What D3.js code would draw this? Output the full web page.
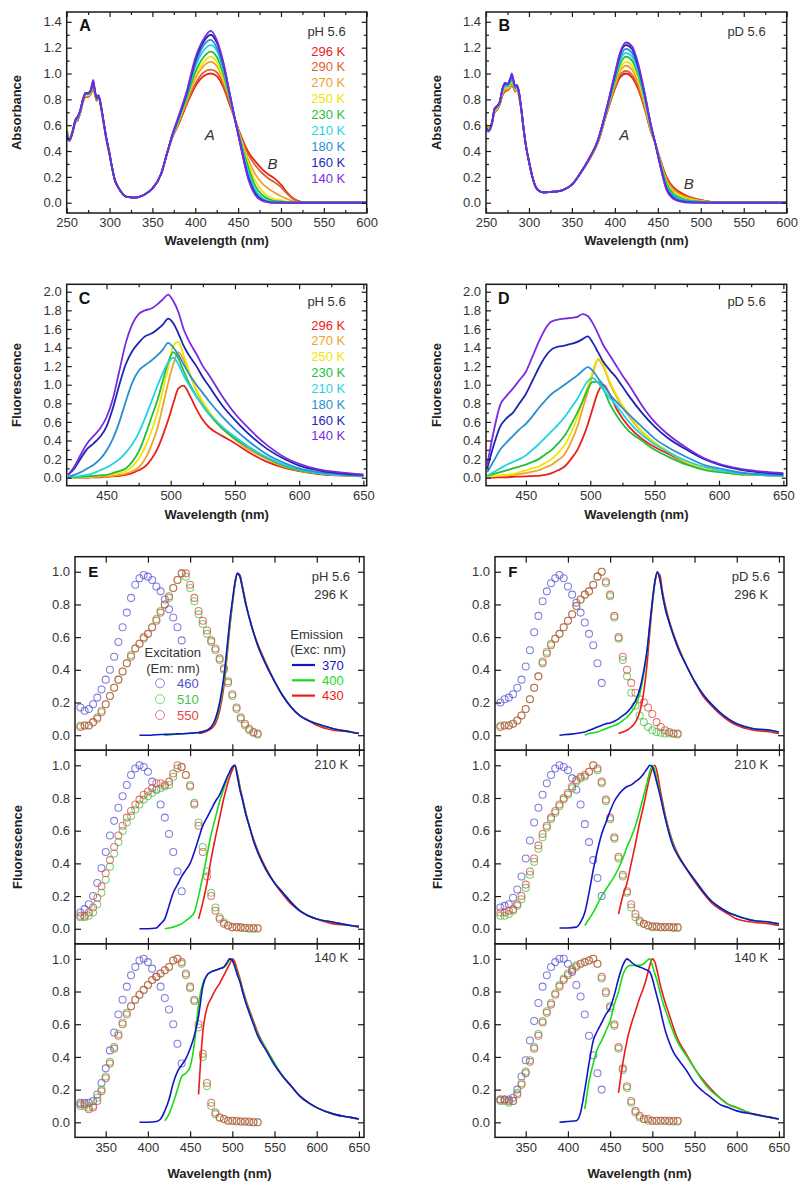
<!DOCTYPE html>
<html><head><meta charset="utf-8">
<script src="https://cdn.jsdelivr.net/npm/d3@7"></script>
<style>body{margin:0;background:#fff}</style>
</head><body>
<svg id="chart" width="800" height="1192" style="background:#fff"></svg>
<script>
// ======================= DATA =======================
// ---- Panels A / B : absorbance vs wavelength ----
const tempsAbs = ["296 K","290 K","270 K","250 K","230 K","210 K","180 K","160 K","140 K"];
const wlA = [250,253,257,260,263,266,269,272,275,278,281,283,285,287,290,293,296,300,303,306,310,315,320,330,340,350,360,367,373,380,390,400,410,418,425,433,440,444,452,462,470,478,485,492,500,507,515,525,540,560,600];
const absA296 = [.57,.50,.56,.62,.64,.70,.78,.82,.82,.84,.88,.84,.79,.82,.74,.62,.50,.37,.27,.18,.12,.07,.045,.04, .06,.11,.22,.38,.50,.60,.76,.90,.98,1.00,.98,.89,.76,.69,.54,.39,.32,.26,.22,.19,.14,.08,.03,.005,0,0,0];
const absA290 = [.57,.50,.56,.62,.64,.70,.78,.82,.82,.84,.89,.84,.79,.82,.74,.62,.50,.37,.27,.18,.12,.07,.045,.04, .06,.11,.22,.38,.50,.61,.77,.92,1.01,1.03,1.01,.91,.78,.69,.53,.37,.29,.23,.19,.16,.12,.07,.025,.004,0,0,0];
const absA270 = [.58,.50,.56,.62,.65,.70,.78,.83,.83,.85,.90,.85,.80,.82,.74,.62,.50,.37,.27,.18,.12,.07,.045,.04, .06,.11,.22,.38,.51,.62,.79,.96,1.06,1.09,1.06,.94,.80,.70,.52,.33,.22,.15,.11,.08,.05,.03,.01,0,0,0,0];
const absA250 = [.58,.50,.56,.63,.65,.71,.79,.83,.83,.85,.91,.85,.80,.82,.74,.62,.50,.37,.27,.18,.12,.07,.045,.04, .06,.11,.22,.38,.51,.62,.80,.99,1.09,1.13,1.09,.96,.81,.70,.51,.30,.17,.09,.05,.03,.02,.01,0,0,0,0,0];
const absA230 = [.56,.49,.55,.63,.65,.71,.79,.84,.84,.86,.92,.85,.80,.83,.74,.62,.50,.37,.27,.18,.12,.07,.045,.04, .06,.11,.22,.38,.51,.63,.81,1.01,1.13,1.17,1.13,.99,.81,.70,.50,.27,.13,.06,.03,.015,.01,0,0,0,0,0,0];
const absA210 = [.55,.49,.55,.63,.66,.71,.79,.84,.84,.86,.93,.86,.81,.83,.75,.63,.51,.38,.27,.18,.12,.07,.045,.04, .06,.11,.22,.38,.51,.64,.83,1.05,1.18,1.22,1.18,1.02,.83,.71,.49,.24,.10,.04,.015,.005,0,0,0,0,0,0,0];
const absA180 = [.54,.48,.55,.63,.66,.72,.80,.84,.84,.86,.93,.86,.81,.83,.75,.63,.51,.38,.27,.18,.12,.07,.045,.04, .06,.11,.22,.38,.52,.65,.84,1.07,1.22,1.26,1.20,1.04,.84,.71,.48,.21,.08,.025,.01,0,0,0,0,0,0,0,0];
const absA160 = [.52,.48,.55,.64,.67,.72,.80,.85,.85,.87,.94,.86,.81,.83,.75,.63,.51,.38,.27,.18,.12,.07,.045,.04, .06,.11,.22,.38,.52,.65,.85,1.10,1.25,1.30,1.24,1.07,.85,.72,.47,.19,.07,.02,.005,0,0,0,0,0,0,0,0];
const absA140 = [.51,.48,.55,.64,.67,.72,.80,.85,.85,.87,.95,.86,.81,.83,.75,.63,.51,.38,.27,.18,.12,.07,.045,.04, .06,.11,.22,.38,.52,.66,.86,1.12,1.27,1.33,1.26,1.08,.85,.72,.47,.18,.06,.015,.005,0,0,0,0,0,0,0,0];

const wlB = [250,253,257,260,263,266,269,272,275,278,280,282,284,286,288,291,294,297,300,304,308,312,316,320,328,335,340,350,360,370,380,390,400,406,413,420,427,435,442,447,452,460,468,476,485,495,505,515,525,540,560,600];
const absB296 = [.60,.57,.62,.70,.72,.76,.83,.86,.87,.89,.91,.89,.86,.88,.84,.72,.56,.42,.32,.20,.12,.09,.08,.08,.085, .09,.10,.14,.23,.33,.46,.68,.88,.97,1.0,.97,.88,.72,.55,.46,.35,.20,.12,.08,.05,.03,.015,.005,0,0,0,0];
const absB290 = [.60,.57,.62,.70,.72,.76,.83,.86,.87,.89,.92,.89,.86,.88,.84,.72,.56,.42,.32,.20,.12,.09,.08,.08,.085, .09,.10,.14,.23,.33,.46,.68,.89,.99,1.02,.99,.90,.73,.55,.46,.35,.19,.11,.07,.045,.025,.012,.004,0,0,0,0];
const absB270 = [.61,.58,.62,.71,.73,.77,.84,.88,.88,.90,.93,.90,.87,.89,.85,.72,.56,.42,.32,.20,.12,.09,.08,.08,.085, .09,.10,.14,.23,.33,.47,.69,.91,1.02,1.06,1.03,.93,.75,.56,.46,.34,.17,.10,.06,.035,.02,.01,0,0,0,0,0];
const absB250 = [.60,.57,.62,.71,.73,.77,.85,.89,.89,.91,.94,.91,.87,.89,.85,.72,.56,.42,.32,.20,.12,.09,.08,.08,.085, .09,.10,.14,.23,.33,.47,.70,.93,1.04,1.09,1.06,.96,.77,.57,.46,.33,.16,.085,.055,.03,.018,.008,0,0,0,0,0];
const absB230 = [.59,.56,.62,.72,.74,.77,.86,.90,.90,.92,.96,.92,.88,.90,.86,.73,.56,.42,.32,.20,.12,.09,.08,.08,.085, .09,.10,.14,.23,.34,.47,.70,.94,1.07,1.13,1.10,.99,.79,.58,.46,.33,.15,.07,.04,.02,.012,.005,0,0,0,0,0];
const absB210 = [.57,.55,.61,.72,.74,.78,.86,.91,.90,.93,.97,.93,.88,.90,.86,.73,.56,.42,.32,.20,.12,.09,.08,.08,.085, .09,.10,.14,.23,.34,.47,.71,.96,1.10,1.16,1.13,1.01,.80,.58,.46,.32,.13,.06,.03,.015,.008,.003,0,0,0,0,0];
const absB180 = [.56,.55,.61,.72,.74,.78,.87,.92,.91,.94,.98,.94,.89,.90,.86,.73,.56,.42,.32,.20,.12,.09,.08,.08,.085, .09,.10,.14,.23,.34,.48,.71,.97,1.12,1.19,1.16,1.04,.82,.59,.46,.32,.12,.05,.02,.01,.005,0,0,0,0,0,0];
const absB160 = [.58,.56,.62,.73,.75,.78,.88,.92,.92,.95,.99,.95,.90,.91,.87,.73,.56,.42,.32,.20,.12,.09,.08,.08,.085, .09,.10,.14,.23,.34,.48,.72,.99,1.15,1.22,1.19,1.06,.83,.60,.46,.31,.11,.035,.012,.004,0,0,0,0,0,0,0];
const absB140 = [.58,.56,.62,.73,.75,.78,.88,.93,.92,.96,1.0,.95,.90,.91,.87,.73,.56,.42,.32,.20,.12,.09,.08,.08,.085, .09,.10,.14,.23,.34,.48,.72,1.0,1.16,1.24,1.21,1.08,.84,.60,.46,.31,.10,.03,.01,0,0,0,0,0,0,0,0];

// ---- Panels C / D : fluorescence vs wavelength ----
const tempsFl = ["296 K","270 K","250 K","230 K","210 K","180 K","160 K","140 K"];
const wlCD = [420,425,430,435,440,445,450,455,460,465,470,475,480,485,490,494,498,502,506,510,515,520,525,530,540,550,560,575,590,600,615,630,650];
const flC296 = [0,0,0,0,.005,.005,.01,.015,.02,.03,.05,.08,.12,.2,.32,.46,.62,.8,.96,.99,.88,.74,.62,.54,.45,.37,.28,.17,.1,.07,.04,.025,.015];
const flC270 = [0,0,0,.005,.008,.01,.015,.02,.03,.045,.07,.11,.2,.35,.55,.78,1.02,1.22,1.35,1.27,1.1,.94,.8,.69,.53,.41,.31,.2,.11,.08,.05,.03,.02];
const flC250 = [0,0,.005,.01,.015,.02,.025,.035,.05,.07,.12,.2,.33,.5,.72,.95,1.18,1.42,1.46,1.32,1.12,.95,.82,.71,.55,.43,.33,.21,.12,.08,.05,.03,.02];
const flC230 = [0,.005,.01,.015,.02,.025,.03,.05,.07,.1,.17,.28,.45,.65,.85,1.05,1.24,1.35,1.28,1.15,1.0,.88,.77,.68,.53,.42,.33,.21,.12,.08,.05,.03,.02];
const flC210 = [0,.01,.02,.03,.05,.08,.11,.15,.2,.27,.36,.48,.64,.82,1.0,1.13,1.24,1.29,1.22,1.1,.98,.87,.78,.69,.55,.44,.34,.22,.13,.09,.05,.03,.02];
const flC180 = [.01,.03,.06,.1,.14,.2,.29,.42,.6,.82,1.02,1.15,1.21,1.26,1.32,1.38,1.45,1.4,1.32,1.22,1.1,1.0,.91,.82,.66,.52,.4,.25,.15,.1,.06,.04,.02];
const flC160 = [.03,.1,.21,.31,.37,.44,.55,.75,1.0,1.22,1.36,1.45,1.52,1.55,1.6,1.65,1.71,1.66,1.55,1.42,1.3,1.2,1.08,.98,.78,.62,.48,.31,.19,.13,.08,.05,.03];
const flC140 = [.03,.12,.25,.37,.45,.53,.65,.85,1.15,1.45,1.65,1.76,1.8,1.82,1.87,1.92,1.97,1.9,1.78,1.6,1.45,1.33,1.2,1.1,.88,.69,.54,.35,.21,.15,.09,.06,.035];

const flD296 = [0,0,.005,.005,.01,.012,.015,.018,.02,.03,.05,.08,.12,.2,.3,.42,.57,.75,.92,1.0,.9,.75,.64,.55,.42,.33,.26,.16,.1,.07,.04,.03,.02];
const flD270 = [.01,.015,.02,.025,.03,.04,.05,.065,.08,.11,.14,.19,.25,.38,.55,.74,.92,1.12,1.27,1.2,1.02,.88,.76,.66,.49,.37,.28,.16,.1,.07,.04,.03,.02];
const flD250 = [.01,.02,.025,.03,.04,.06,.08,.1,.12,.16,.2,.27,.35,.48,.65,.82,.98,1.15,1.28,1.22,1.04,.9,.78,.68,.5,.38,.29,.17,.1,.07,.04,.03,.02];
const flD230 = [.02,.04,.06,.08,.1,.12,.14,.17,.2,.25,.3,.37,.45,.57,.7,.82,.95,1.03,1.03,.96,.8,.68,.58,.5,.4,.3,.23,.14,.08,.06,.04,.03,.02];
const flD210 = [.02,.06,.1,.14,.17,.2,.24,.3,.36,.43,.5,.57,.65,.75,.85,.95,1.04,1.07,1.02,.95,.86,.78,.69,.6,.46,.36,.28,.18,.11,.08,.05,.03,.02];
const flD180 = [.06,.18,.3,.38,.45,.52,.58,.66,.75,.83,.9,.95,1.0,1.05,1.1,1.15,1.19,1.15,1.07,1.0,.9,.82,.75,.68,.55,.42,.33,.22,.13,.1,.06,.04,.03];
const flD160 = [.1,.35,.55,.64,.7,.8,.9,1.04,1.18,1.3,1.38,1.41,1.42,1.44,1.46,1.49,1.52,1.45,1.35,1.25,1.16,1.08,.98,.88,.7,.55,.43,.3,.19,.14,.09,.06,.04];
const flD140 = [.14,.5,.78,.88,.96,1.05,1.14,1.3,1.46,1.6,1.68,1.7,1.71,1.72,1.73,1.76,1.74,1.66,1.55,1.43,1.32,1.21,1.1,1.0,.78,.6,.47,.32,.2,.15,.1,.07,.05];

// ---- Panels E / F : normalized excitation (circles) and emission (lines) ----
const exWl460 = [320,325,330,335,340,345,350,355,360,365,370,375,380,385,390,395,400,405,410,415,420,425,430,435,440];
const exWl = [320,325,330,335,340,345,350,355,360,365,370,375,380,385,390,395,400,405,410,415,420,425,430,435,440,445,450,455,460,465,470,475,480,485,490,495,500,505,510,515,520,525,530];
const emWl = [390,400,410,415,420,425,430,435,440,445,450,455,460,465,470,475,480,485,490,494,497,500,503,506,509,512,516,520,525,530,540,550,560,570,580,590,600,620,640,650];
const _ = null;

// E (pH 5.6)
const e296ex460 = [.17,.15,.16,.19,.23,.28,.34,.4,.48,.57,.66,.75,.84,.92,.96,.98,.97,.95,.91,.88,.83,.77,.72,.66,.58];
const e296ex510 = [.06,.06,.06,.08,.11,.15,.19,.24,.29,.34,.39,.44,.49,.53,.56,.59,.62,.66,.71,.76,.8,.84,.9,.95,.99,.97,.9,.82,.74,.68,.62,.57,.52,.46,.4,.32,.24,.16,.1,.06,.03,.015,.005];
const e296ex550 = [.05,.06,.06,.08,.1,.14,.19,.24,.29,.34,.39,.44,.48,.53,.56,.6,.62,.66,.7,.75,.8,.85,.9,.95,.99,.99,.92,.84,.76,.7,.64,.58,.53,.47,.41,.33,.25,.17,.11,.07,.04,.02,.01];
const e296em370 = [0,0,.003,.004,.005,.006,.007,.008,.009,.01,.012,.014,.017,.022,.03,.05,.1,.2,.36,.55,.7,.82,.93,.99,.97,.9,.8,.72,.63,.55,.43,.33,.24,.17,.12,.09,.07,.04,.02,.01];
const e296em400 = [_,_,_,_,0,.002,.004,.006,.008,.01,.012,.014,.017,.022,.03,.05,.09,.18,.33,.52,.68,.8,.92,.99,.97,.9,.8,.72,.63,.55,.43,.33,.24,.17,.12,.09,.07,.04,.02,.01];
const e296em430 = [_,_,_,_,_,_,_,_,_,_,_,_,.01,.015,.025,.04,.07,.15,.3,.5,.66,.8,.92,.99,.98,.91,.81,.72,.63,.56,.44,.33,.24,.17,.12,.09,.06,.03,.02,.01];

const e210ex460 = [.1,.12,.15,.2,.28,.37,.47,.57,.66,.74,.81,.88,.94,.98,1.0,.99,.96,.9,.85,.76,.68,.58,.47,.35,.23];
const e210ex510 = [.07,.07,.08,.1,.15,.22,.3,.38,.46,.53,.6,.65,.69,.73,.76,.79,.81,.83,.85,.86,.87,.88,.93,.98,.99,.94,.88,.77,.65,.5,.35,.22,.13,.07,.04,.02,.01,.01,.005,.005,0,0,0];
const e210ex550 = [.08,.08,.1,.13,.19,.26,.34,.42,.5,.57,.63,.68,.72,.76,.79,.82,.84,.86,.89,.89,.88,.9,.95,1.0,.99,.94,.87,.76,.63,.47,.32,.2,.11,.06,.03,.02,.01,.01,.01,.005,.005,.005,.005];
const e210em370 = [0,0,.005,.03,.06,.14,.22,.27,.32,.36,.4,.47,.55,.63,.68,.73,.78,.82,.88,.93,.96,.99,1.0,.93,.85,.79,.7,.63,.54,.47,.36,.28,.22,.16,.11,.08,.06,.04,.02,.015];
const e210em400 = [_,_,_,_,0,.005,.01,.02,.03,.05,.07,.1,.2,.32,.45,.58,.68,.78,.86,.92,.96,.99,1.0,.94,.86,.79,.7,.63,.54,.47,.36,.28,.22,.16,.11,.08,.06,.04,.02,.015];
const e210em430 = [_,_,_,_,_,_,_,_,_,_,_,_,.06,.16,.28,.43,.56,.68,.8,.88,.93,.97,1.0,.95,.87,.8,.71,.63,.55,.48,.37,.28,.21,.15,.11,.08,.06,.03,.02,.01];

const e140ex460 = [.12,.12,.12,.13,.17,.24,.33,.44,.55,.66,.75,.83,.9,.95,.99,1.0,.98,.94,.89,.83,.76,.69,.6,.48,.36];
const e140ex510 = [.1,.1,.09,.1,.15,.2,.28,.37,.46,.54,.61,.67,.71,.75,.78,.81,.84,.87,.89,.91,.93,.95,.99,1.0,.97,.9,.82,.74,.58,.4,.22,.1,.05,.03,.02,.01,.01,.005,.005,.005,0,0,0];
const e140ex550 = [.11,.11,.08,.09,.13,.19,.27,.36,.45,.53,.6,.66,.71,.75,.78,.81,.84,.87,.89,.91,.93,.95,.99,1.0,.98,.91,.83,.75,.6,.42,.24,.12,.06,.03,.02,.01,.01,.01,.005,.005,.005,0,0];
const e140em370 = [0,0,.005,.02,.07,.14,.24,.31,.35,.39,.45,.53,.65,.83,.9,.92,.93,.94,.95,.98,1.0,.99,.95,.9,.86,.8,.73,.67,.6,.53,.44,.35,.28,.22,.16,.12,.09,.05,.03,.02];
const e140em400 = [_,_,_,_,.01,.05,.12,.2,.28,.3,.34,.48,.72,.85,.9,.92,.93,.94,.95,.97,1.0,.99,.96,.91,.87,.81,.74,.68,.61,.54,.45,.36,.28,.22,.16,.12,.09,.05,.03,.02];
const e140em430 = [_,_,_,_,_,_,_,_,_,_,_,_,.17,.55,.7,.76,.81,.85,.9,.94,.97,1.0,.98,.93,.88,.82,.75,.69,.62,.55,.45,.36,.28,.22,.16,.12,.09,.05,.03,.02];

// F (pD 5.6)
const f296ex460 = [.2,.22,.23,.25,.29,.34,.42,.52,.63,.73,.82,.88,.93,.96,.98,.96,.91,.86,.81,.75,.69,.62,.55,.44,.32];
const f296ex510 = [.06,.06,.06,.07,.09,.12,.16,.22,.29,.36,.45,.51,.56,.59,.62,.66,.7,.74,.79,.83,.86,.88,.92,.97,1.0,.93,.85,.72,.59,.46,.36,.26,.18,.12,.08,.05,.03,.02,.015,.01,.01,.01,.005];
const f296ex550 = [.05,.06,.06,.07,.09,.12,.16,.22,.29,.36,.44,.5,.55,.59,.62,.66,.7,.74,.79,.83,.86,.88,.92,.97,1.0,.94,.86,.73,.6,.48,.4,.32,.26,.22,.2,.17,.13,.08,.05,.03,.02,.01,.01];
const f296em370 = [0,.005,.01,.015,.02,.03,.04,.05,.06,.07,.075,.085,.1,.12,.14,.17,.21,.28,.4,.53,.68,.82,.94,1.0,.95,.86,.76,.69,.61,.54,.43,.33,.25,.19,.14,.1,.07,.04,.03,.02];
const f296em400 = [_,_,_,_,0,.01,.015,.02,.03,.04,.05,.06,.07,.09,.11,.14,.18,.25,.38,.52,.67,.81,.94,1.0,.95,.86,.76,.69,.61,.54,.43,.33,.25,.19,.14,.1,.07,.04,.03,.02];
const f296em430 = [_,_,_,_,_,_,_,_,_,_,_,_,.01,.02,.03,.05,.08,.14,.27,.45,.63,.8,.93,.99,.98,.88,.78,.7,.62,.55,.43,.33,.24,.18,.13,.09,.06,.03,.02,.01];

const f210ex460 = [.13,.14,.15,.19,.24,.32,.43,.54,.65,.74,.82,.89,.94,.98,1.0,.99,.97,.92,.85,.76,.64,.53,.42,.31,.2];
const f210ex510 = [.08,.08,.09,.11,.14,.18,.25,.33,.41,.49,.56,.62,.67,.71,.75,.79,.82,.86,.9,.92,.93,.96,1.0,.97,.89,.78,.67,.55,.43,.32,.22,.13,.07,.04,.03,.02,.01,.01,.01,.01,.01,.005,.005];
const f210ex550 = [.1,.1,.11,.12,.15,.2,.27,.35,.43,.51,.58,.63,.68,.72,.76,.8,.83,.87,.91,.93,.94,.96,1.0,.98,.9,.79,.68,.56,.44,.33,.23,.15,.09,.05,.03,.02,.015,.015,.01,.01,.01,.01,.01];
const f210em370 = [.005,.005,.01,.04,.1,.22,.36,.48,.58,.65,.72,.78,.82,.85,.87,.88,.9,.92,.95,.98,1.0,.99,.94,.88,.82,.75,.66,.58,.5,.45,.37,.3,.23,.17,.13,.1,.08,.05,.04,.03];
const f210em400 = [_,_,_,_,.02,.06,.1,.15,.2,.24,.28,.32,.37,.43,.5,.56,.63,.72,.82,.9,.96,1.0,.97,.9,.83,.76,.67,.59,.51,.45,.37,.3,.23,.17,.13,.1,.08,.05,.04,.03];
const f210em430 = [_,_,_,_,_,_,_,_,_,_,_,_,.09,.2,.28,.4,.52,.65,.76,.86,.93,.98,1.0,.95,.86,.78,.68,.6,.52,.46,.37,.29,.22,.16,.12,.09,.06,.04,.03,.02];

const f140ex460 = [.14,.14,.14,.15,.2,.28,.38,.5,.62,.73,.83,.9,.95,.98,1.0,1.0,.97,.92,.84,.77,.66,.53,.41,.3,.2];
const f140ex510 = [.13,.13,.12,.13,.18,.24,.31,.38,.46,.54,.62,.68,.73,.79,.84,.88,.91,.94,.96,.97,.98,.99,1.0,.97,.88,.79,.7,.59,.45,.32,.21,.12,.06,.03,.02,.01,.01,.01,.01,.01,.005,.005,.005];
const f140ex550 = [.14,.14,.13,.13,.17,.23,.3,.37,.45,.53,.61,.67,.72,.78,.83,.87,.9,.93,.95,.97,.98,.99,1.0,.97,.89,.8,.71,.6,.46,.33,.22,.13,.07,.04,.02,.02,.01,.01,.01,.01,.01,.01,.01];
const f140em370 = [0,.005,.01,.06,.2,.36,.5,.56,.61,.66,.7,.78,.88,.96,1.0,.98,.96,.95,.94,.93,.92,.88,.82,.76,.7,.63,.55,.49,.43,.39,.32,.24,.19,.15,.11,.09,.07,.05,.03,.02];
const f140em400 = [_,_,_,_,.08,.25,.36,.45,.5,.56,.62,.72,.8,.9,.95,.96,.96,.96,.97,.99,1.0,.96,.91,.86,.8,.74,.68,.62,.55,.49,.41,.33,.25,.19,.15,.11,.09,.05,.03,.02];
const f140em430 = [_,_,_,_,_,_,_,_,_,_,_,_,.18,.36,.5,.6,.68,.76,.83,.9,.96,1.0,.98,.92,.85,.79,.72,.66,.58,.51,.42,.33,.26,.2,.15,.11,.09,.05,.03,.02];

// tick values
const ticksAbsX = [250,300,350,400,450,500,550,600];
const ticksAbsY = [0,0.2,0.4,0.6,0.8,1.0,1.2,1.4];
const ticksFlX = [450,500,550,600,650];
const ticksFlY = [0,0.2,0.4,0.6,0.8,1.0,1.2,1.4,1.6,1.8,2.0];
const ticksNormX = [350,400,450,500,550,600,650];
const ticksNormY = [0,0.2,0.4,0.6,0.8,1.0];

// ======================= STYLE =======================
const FONT = "'Liberation Sans', Arial, Helvetica, sans-serif";
const tempColor = {"296 K":"#e8221b","290 K":"#d9652c","270 K":"#f0a22c","250 K":"#f2e600","230 K":"#22bf3a","210 K":"#1fd3e4","180 K":"#2a8fd2","160 K":"#1b27b2","140 K":"#7a2ae2"};
const exColor = {"460":"#5454d0","510":"#46c446","550":"#e04848"};
const emColor = {"370":"#1414c8","400":"#18dc18","430":"#ec1a1a"};

const svg = d3.select("#chart");
const defs = svg.append("defs");
let clipN = 0;

function panel(o){
  const x = d3.scaleLinear().domain(o.xd).range([o.l, o.r]);
  const y = d3.scaleLinear().domain(o.yd).range([o.b, o.t]);
  const id = "cp" + (clipN++);
  defs.append("clipPath").attr("id", id).append("rect")
    .attr("x", o.l).attr("y", o.t).attr("width", o.r - o.l).attr("height", o.b - o.t);
  const plot = svg.append("g").attr("clip-path", `url(#${id})`);
  const ax = svg.append("g");
  const none = () => "";
  function add(axis, tr){
    const g = ax.append("g").attr("transform", tr).call(axis);
    g.select(".domain").remove();
    g.selectAll(".tick line").attr("stroke", "#1a1a1a").attr("stroke-width", 1.2);
    g.selectAll(".tick text").attr("fill", "#333").style("font-size", "13px").style("font-family", FONT);
  }
  add(d3.axisBottom(x).tickValues(o.xMaj).tickSize(-o.tl).tickPadding(5).tickFormat(o.xLab ? d3.format("d") : none), `translate(0,${o.b})`);
  add(d3.axisTop(x).tickValues(o.xMaj).tickSize(-o.tl).tickFormat(none), `translate(0,${o.t})`);
  add(d3.axisLeft(y).tickValues(o.yMaj).tickSize(-o.tl).tickPadding(5).tickFormat(d3.format(".1f")), `translate(${o.l},0)`);
  add(d3.axisRight(y).tickValues(o.yMaj).tickSize(-o.tl).tickFormat(none), `translate(${o.r},0)`);
  if (o.minor) {
    const xm = o.xMaj.slice(0, -1).map((v, i) => (v + o.xMaj[i + 1]) / 2);
    const ym = o.yMaj.slice(0, -1).map((v, i) => (v + o.yMaj[i + 1]) / 2);
    add(d3.axisBottom(x).tickValues(xm).tickSize(-3).tickFormat(none), `translate(0,${o.b})`);
    add(d3.axisTop(x).tickValues(xm).tickSize(-3).tickFormat(none), `translate(0,${o.t})`);
    add(d3.axisLeft(y).tickValues(ym).tickSize(-3).tickFormat(none), `translate(${o.l},0)`);
    add(d3.axisRight(y).tickValues(ym).tickSize(-3).tickFormat(none), `translate(${o.r},0)`);
  }
  ax.append("rect").attr("x", o.l).attr("y", o.t).attr("width", o.r - o.l).attr("height", o.b - o.t)
    .attr("fill", "none").attr("stroke", "#1a1a1a").attr("stroke-width", 1.5);
  return {x, y, plot};
}

function drawLine(p, xs, ys, color, w){
  const pts = xs.map((v, i) => [v, ys[i]]);
  const line = d3.line().defined(d => d[1] != null).x(d => p.x(d[0])).y(d => p.y(d[1])).curve(d3.curveMonotoneX);
  p.plot.append("path").datum(pts).attr("d", line).attr("fill", "none")
    .attr("stroke", color).attr("stroke-width", w).attr("stroke-linejoin", "round");
}
function drawCircles(p, xs, ys, color){
  const pts = xs.map((v, i) => [v, ys[i]]).filter(d => d[1] != null);
  p.plot.append("g").selectAll("circle").data(pts).join("circle")
    .attr("cx", d => p.x(d[0])).attr("cy", d => p.y(d[1])).attr("r", 3.5)
    .attr("fill", "none").attr("stroke", color).attr("stroke-width", 1.05).attr("stroke-opacity", 0.75);
}
function text(x, y, s, o = {}){
  const t = svg.append("text").attr("x", x).attr("y", y).text(s)
    .attr("text-anchor", o.anchor || "start").attr("dominant-baseline", o.base || "central")
    .attr("fill", o.fill || "#333").style("font-family", FONT)
    .style("font-size", (o.size || 13) + "px").style("font-weight", o.weight || "normal")
    .style("font-style", o.style || "normal");
  if (o.rot) t.attr("transform", `rotate(${o.rot},${x},${y})`);
  return t;
}

// ======================= PANELS A & B =======================
const absSetA = [absA296, absA290, absA270, absA250, absA230, absA210, absA180, absA160, absA140];
const absSetB = [absB296, absB290, absB270, absB250, absB230, absB210, absB180, absB160, absB140];
[[66.7, 366.7, wlA, absSetA, "A", "pH 5.6"], [486, 786.7, wlB, absSetB, "B", "pD 5.6"]].forEach(([l, r, wl, set, letter, cond], k) => {
  const p = panel({l, r, t: 12, b: 213, xd: [250, 600], yd: [-0.0796, 1.476], xMaj: ticksAbsX, yMaj: ticksAbsY, xLab: true, tl: 5, minor: true});
  set.forEach((s, i) => drawLine(p, wl, s, tempColor[tempsAbs[i]], 1.8));
  text(l + 12.6, 31, letter, {base: "alphabetic", size: 16, weight: "bold", fill: "#111"});
  text(r - 21, 31, cond, {anchor: "end"});
  text(l + 0.5 * (r - l), 240, "Wavelength (nm)", {anchor: "middle", weight: "bold", fill: "#222"});
  text(l - 50, 112.5, "Absorbance", {anchor: "middle", weight: "bold", fill: "#222", rot: -90});
  if (k === 0) {
    tempsAbs.forEach((t, i) => text(r - 21.5, 51 + i * 15.95, t, {anchor: "end", fill: tempColor[t]}));
    text(p.x(417), 134, "A", {anchor: "middle", style: "italic", size: 15});
    text(p.x(490), 163, "B", {anchor: "middle", style: "italic", size: 15});
  } else {
    text(p.x(411), 134, "A", {anchor: "middle", style: "italic", size: 15});
    text(p.x(486), 183, "B", {anchor: "middle", style: "italic", size: 15});
  }
});

// ======================= PANELS C & D =======================
const flSetC = [flC296, flC270, flC250, flC230, flC210, flC180, flC160, flC140];
const flSetD = [flD296, flD270, flD250, flD230, flD210, flD180, flD160, flD140];
[[66.7, 366.7, flSetC, "C", "pH 5.6"], [486, 786.7, flSetD, "D", "pD 5.6"]].forEach(([l, r, set, letter, cond], k) => {
  const p = panel({l, r, t: 284.3, b: 485.7, xd: [419, 652.6], yd: [-0.086, 2.08], xMaj: ticksFlX, yMaj: ticksFlY, xLab: true, tl: 5, minor: true});
  set.forEach((s, i) => drawLine(p, wlCD, s, tempColor[tempsFl[i]], 1.8));
  text(l + 12, 303.5, letter, {base: "alphabetic", size: 16, weight: "bold", fill: "#111"});
  text(r - 21, 301.7, cond, {anchor: "end"});
  text(l + 0.5 * (r - l), 514, "Wavelength (nm)", {anchor: "middle", weight: "bold", fill: "#222"});
  text(l - 50, 385, "Fluorescence", {anchor: "middle", weight: "bold", fill: "#222", rot: -90});
  if (k === 0) tempsFl.forEach((t, i) => text(r - 21.5, 325 + i * 15.85, t, {anchor: "end", fill: tempColor[t]}));
});

// ======================= PANELS E & F =======================
const subE = [
  {ex: [e296ex460, e296ex510, e296ex550], em: [e296em370, e296em400, e296em430], lab: "296 K"},
  {ex: [e210ex460, e210ex510, e210ex550], em: [e210em370, e210em400, e210em430], lab: "210 K"},
  {ex: [e140ex460, e140ex510, e140ex550], em: [e140em370, e140em400, e140em430], lab: "140 K"}];
const subF = [
  {ex: [f296ex460, f296ex510, f296ex550], em: [f296em370, f296em400, f296em430], lab: "296 K"},
  {ex: [f210ex460, f210ex510, f210ex550], em: [f210em370, f210em400, f210em430], lab: "210 K"},
  {ex: [f140ex460, f140ex510, f140ex550], em: [f140em370, f140em400, f140em430], lab: "140 K"}];
const exKeys = ["460", "510", "550"], emKeys = ["370", "400", "430"];
const subH = 193.55, top0 = 556.7;
[[75, 364, subE, "E", "pH 5.6"], [495, 784, subF, "F", "pD 5.6"]].forEach(([l, r, subs, letter, cond], k) => {
  subs.forEach((s, j) => {
    const t = top0 + j * subH, b = t + subH;
    const p = panel({l, r, t, b, xd: [313.6, 656], yd: [-0.092, 1.092], xMaj: ticksNormX, yMaj: ticksNormY, xLab: j === 2, tl: 6, minor: false});
    drawCircles(p, exWl460, s.ex[0], exColor["460"]);
    drawCircles(p, exWl, s.ex[1], exColor["510"]);
    drawCircles(p, exWl, s.ex[2], exColor["550"]);
    drawLine(p, emWl, s.em[2], emColor["430"], 1.6);
    drawLine(p, emWl, s.em[1], emColor["400"], 1.6);
    drawLine(p, emWl, s.em[0], emColor["370"], 1.6);
    if (j === 0) {
      text(r - 14, 576.7, cond, {anchor: "end"});
      text(r - 15.7, 594.3, s.lab, {anchor: "end"});
    } else {
      text(r - 15.7, t + 14, s.lab, {anchor: "end"});
    }
  });
  text(l + 13.3, 577, letter, {base: "alphabetic", size: 15, weight: "bold", fill: "#111"});
  text(l + 0.5 * (r - l), 1173, "Wavelength (nm)", {anchor: "middle", weight: "bold", fill: "#222"});
  text(l - 58, 847, "Fluorescence", {anchor: "middle", weight: "bold", fill: "#222", rot: -90});
  if (k === 0) {
    text(172.7, 652.7, "Excitation", {anchor: "middle"});
    text(173, 668.3, "(Em: nm)", {anchor: "middle"});
    exKeys.forEach((key, i) => {
      svg.append("circle").attr("cx", 160).attr("cy", 683.3 + i * 15.85).attr("r", 4.5)
        .attr("fill", "none").attr("stroke", exColor[key]).attr("stroke-width", 1).attr("stroke-opacity", 0.7);
      text(177, 683.3 + i * 15.85, key, {fill: exColor[key]});
    });
    text(316.7, 634.3, "Emission", {anchor: "middle"});
    text(318, 649.3, "(Exc: nm)", {anchor: "middle"});
    emKeys.forEach((key, i) => {
      svg.append("line").attr("x1", 292).attr("x2", 315).attr("y1", 665 + i * 15.3).attr("y2", 665 + i * 15.3)
        .attr("stroke", emColor[key]).attr("stroke-width", 2.2);
      text(322, 665 + i * 15.3, key, {fill: emColor[key]});
    });
  }
});
</script>
</body></html>
